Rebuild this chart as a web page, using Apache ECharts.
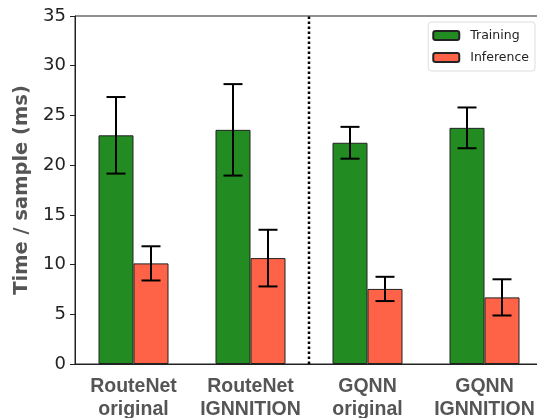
<!DOCTYPE html>
<html>
<head>
<meta charset="utf-8">
<script src="https://cdn.jsdelivr.net/npm/echarts@6/dist/echarts.min.js"></script>
<style>html,body{margin:0;padding:0;background:#fff}#c{width:537px;height:418px}</style>
</head>
<body>
<div id="c"></div>
<script>
var categories = ['RouteNet\noriginal', 'RouteNet\nIGNNITION', 'GQNN\noriginal', 'GQNN\nIGNNITION'];
var trainingMean = [23.0, 23.55, 22.25, 23.75];
var trainingErr = [3.85, 4.6, 1.6, 2.05];
var inferenceMean = [10.12, 10.65, 7.55, 6.7];
var inferenceErr = [1.72, 2.85, 1.22, 1.82];
var separatorBetween = [1, 2];
var yTicks = {min: 0, max: 35, interval: 5};

function errData(mean, err) {
  return mean.map(function (m, i) { return [i, m - err[i], m + err[i]]; });
}

var barW = 35;
function errRender(side) {
  return function (params, api) {
    var i = api.value(0);
    var lo = api.coord([i, api.value(1)]);
    var hi = api.coord([i, api.value(2)]);
    var x = lo[0] + side * barW / 2;
    var cap = 9.5;
    var st = {stroke: '#000', lineWidth: 2};
    return {type: 'group', children: [
      {type: 'line', shape: {x1: x, y1: lo[1], x2: x, y2: hi[1]}, style: st},
      {type: 'line', shape: {x1: x - cap, y1: lo[1], x2: x + cap, y2: lo[1]}, style: st},
      {type: 'line', shape: {x1: x - cap, y1: hi[1], x2: x + cap, y2: hi[1]}, style: st}
    ]};
  };
}

var chart = echarts.init(document.getElementById('c'), null, {renderer: 'canvas'});
chart.setOption({
  animation: false,
  grid: {left: 75, top: 16, bottom: 54, right: -6, outerBoundsMode: 'none', containLabel: false,
         show: true, borderColor: '#222', borderWidth: 1, backgroundColor: 'transparent'},
  legend: {
    top: 22, right: 2, orient: 'vertical', itemWidth: 26, itemHeight: 9, itemGap: 9,
    padding: [7, 6, 7, 4], borderColor: '#ddd', borderWidth: 1, borderRadius: 3,
    textStyle: {fontFamily: 'DejaVu Sans', fontSize: 12.5, color: '#222', padding: [0, 0, 0, 6]},
    data: ['Training', 'Inference']
  },
  xAxis: {
    type: 'category', data: categories,
    axisLine: {lineStyle: {color: '#222', width: 1}},
    axisTick: {show: false},
    axisLabel: {interval: 0, fontFamily: 'Liberation Sans', fontWeight: 'bold', fontSize: 19.5, lineHeight: 23, color: '#555', margin: 11}
  },
  yAxis: {
    type: 'value', min: yTicks.min, max: yTicks.max, interval: yTicks.interval,
    name: 'Time / sample (ms)', nameLocation: 'middle', nameGap: 41,
    nameTextStyle: {fontFamily: 'DejaVu Sans', fontWeight: 'bold', fontSize: 19.5, color: '#555'},
    axisLine: {show: true, lineStyle: {color: '#222', width: 1}},
    axisTick: {show: true, inside: false, length: 5, lineStyle: {color: '#222'}},
    splitLine: {show: false},
    axisLabel: {fontFamily: 'DejaVu Sans', fontSize: 18, color: '#222', margin: 9}
  },
  series: [
    {name: 'Training', type: 'bar', data: trainingMean, barWidth: barW, barGap: '0%',
     itemStyle: {color: '#228B22', borderColor: '#222', borderWidth: 1}},
    {name: 'Inference', type: 'bar', data: inferenceMean, barWidth: barW, barGap: '0%',
     itemStyle: {color: '#FF6347', borderColor: '#222', borderWidth: 1}},
    {type: 'custom', data: errData(trainingMean, trainingErr), renderItem: errRender(-1), z: 5, silent: true},
    {type: 'custom', data: errData(inferenceMean, inferenceErr), renderItem: errRender(1), z: 5, silent: true},
    {type: 'custom', data: [separatorBetween], clip: false, z: 4, silent: true,
     renderItem: function (params, api) {
       var a = api.coord([api.value(0), yTicks.min]);
       var b = api.coord([api.value(1), yTicks.max]);
       var x = (a[0] + b[0]) / 2;
       return {type: 'line', shape: {x1: x, y1: a[1], x2: x, y2: b[1]},
               style: {stroke: '#000', lineWidth: 2.5, lineDash: [2.5, 2.5]}};
     }}
  ]
});
</script>
</body>
</html>
